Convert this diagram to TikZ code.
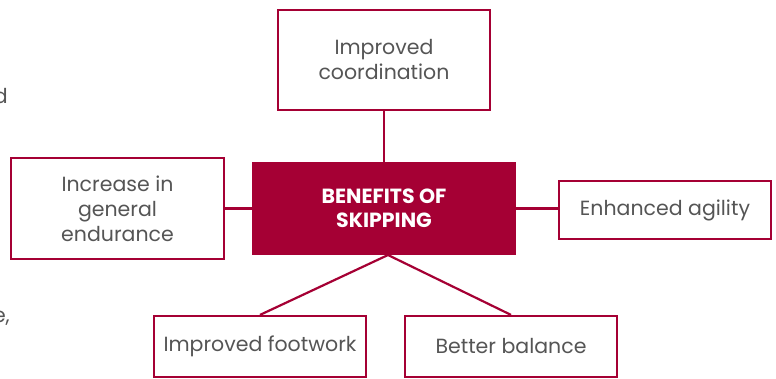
\documentclass[tikz,border=0pt]{standalone}
\usepackage{fontspec}
\setmainfont{Poppins}
\definecolor{crim}{HTML}{A50034}
\definecolor{txt}{HTML}{555555}
\begin{document}
\begin{tikzpicture}[x=1pt,y=-1pt,
  leaf/.style={draw=crim,line width=2.2pt,fill=white,text=txt,align=center,font=\fontsize{20.5}{25}\selectfont,inner sep=0pt},
  link/.style={draw=crim,line width=2.2pt}]
\clip (0,0) rectangle (776,378);
\fill[white] (0,0) rectangle (776,378);
\node[anchor=base east,text=txt,font=\fontsize{20.5}{25}\selectfont,inner sep=0pt] (fa) at (8,103) {d};
\node[anchor=base east,text=txt,font=\fontsize{20.5}{25}\selectfont,inner sep=0pt] (fb) at (10,322) {e,};
\node[fill=crim,minimum width=264pt,minimum height=93pt,inner sep=0pt,text=white,align=center,font=\fontsize{20.5}{24}\selectfont\bfseries] (c) at (384,208.5) {BENEFITS OF\\SKIPPING};
\node[leaf,minimum width=212pt,minimum height=100pt] (t) at (384,60) {Improved\\coordination};
\node[leaf,minimum width=213pt,minimum height=101pt] (l) at (117.5,208.5) {Increase in\\general\\endurance};
\node[leaf,minimum width=212pt,minimum height=58pt] (r) at (665,210) {Enhanced agility};
\node[leaf,minimum width=212pt,minimum height=61pt] (bl) at (260,346.5) {Improved footwork};
\node[leaf,minimum width=212pt,minimum height=61pt] (br) at (511,346.5) {Better balance};
\coordinate (apex) at (388,255);
\draw[link] (t.south) -- (c.north);
\draw[link] (l.east) -- (c.west);
\draw[link] (r.west |- c.east) -- (c.east);
\draw[link] (apex) -- (bl.north);
\draw[link] (apex) -- (br.north);
\end{tikzpicture}
\end{document}
